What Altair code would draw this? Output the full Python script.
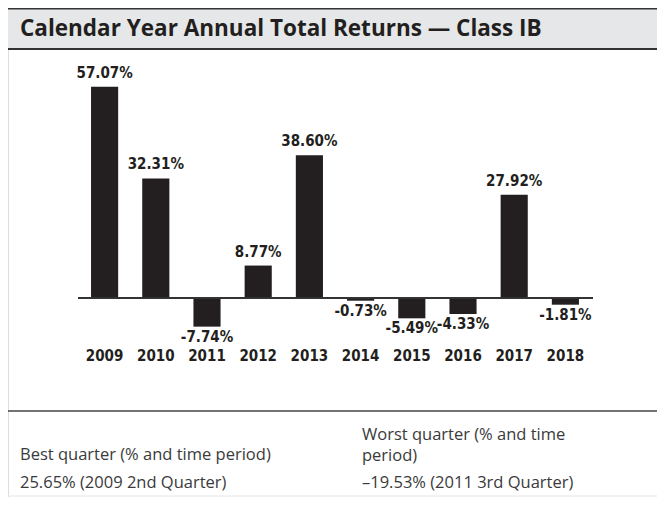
import altair as alt
import pandas as pd

years = ["2009", "2010", "2011", "2012", "2013", "2014", "2015", "2016", "2017", "2018"]
returns = [57.07, 32.31, -7.74, 8.77, 38.60, -0.73, -5.49, -4.33, 27.92, -1.81]
labels = ["57.07%", "32.31%", "-7.74%", "8.77%", "38.60%", "-0.73%", "-5.49%", "-4.33%", "27.92%", "-1.81%"]

title_text = "Calendar Year Annual Total Returns \u2014 Class IB"
best_lines = ["Best quarter (% and time period)", "25.65% (2009 2nd Quarter)"]
worst_lines = ["Worst quarter (% and time", "period)", "\u201319.53% (2011 3rd Quarter)"]

W, H = 649, 489
PX_PER_PCT = 3.70
ZERO_Y = 290

df = pd.DataFrame({"year": years, "ret": returns, "label": labels})

xs = alt.Scale(domain=years, range=[71, 583], paddingInner=0.47, paddingOuter=0.235)
ys = alt.Scale(domain=[-(H - ZERO_Y) / PX_PER_PCT, ZERO_Y / PX_PER_PCT], range=[H, 0], nice=False, zero=False)

X = alt.X("year:N", scale=xs, axis=None)
Y = alt.Y("ret:Q", scale=ys, axis=None)

base = alt.Chart(df)

bars = base.mark_bar(color="#231f20").encode(
    x=X, y=Y, y2=alt.datum(0)
)

zero_line = alt.Chart(pd.DataFrame({"z": [0]})).mark_rule(color="#333333", strokeWidth=2).encode(
    x=alt.value(70), x2=alt.value(585),
    y=alt.Y("z:Q", scale=ys, axis=None)
)

lab_font = "DejaVu Sans Condensed, Roboto, sans-serif"
pos_labels = base.transform_filter("datum.ret >= 0").mark_text(
    font=lab_font, fontWeight="bold", fontSize=15, baseline="bottom", dy=-6, color="#231f20"
).encode(x=X, y=Y, text="label:N")

neg_labels = base.transform_filter("datum.ret < 0").mark_text(
    font=lab_font, fontWeight="bold", fontSize=15, baseline="top", dy=3, color="#231f20"
).encode(x=X, y=Y, text="label:N")

year_labels = base.mark_text(
    font=lab_font, fontWeight="bold", fontSize=15, baseline="middle", color="#231f20"
).encode(x=X, y=alt.value(348), text="year:N")

one = pd.DataFrame({"a": [0]})
banner = alt.Chart(one).mark_rect(color="#e6e7e8").encode(
    x=alt.value(0), x2=alt.value(W), y=alt.value(1), y2=alt.value(41)
)
top_rule = alt.Chart(one).mark_rule(color="#333333", strokeWidth=1.5).encode(
    x=alt.value(0), x2=alt.value(W), y=alt.value(0.75)
)
bot_rule = alt.Chart(one).mark_rule(color="#333333", strokeWidth=2).encode(
    x=alt.value(0), x2=alt.value(W), y=alt.value(41)
)
title = alt.Chart(pd.DataFrame({"t": [title_text]})).mark_text(
    font="Open Sans", fontWeight="bold", fontSize=22.5, align="left", baseline="alphabetic", color="#231f20"
).encode(x=alt.value(12), y=alt.value(28), text="t:N")

foot_rule = alt.Chart(one).mark_rule(color="#444444", strokeWidth=1.5).encode(
    x=alt.value(0), x2=alt.value(W), y=alt.value(403)
)
end_rule = alt.Chart(one).mark_rule(color="#e4e4e4", strokeWidth=1).encode(
    x=alt.value(0), x2=alt.value(W), y=alt.value(488)
)

best_df = pd.DataFrame({"t": best_lines, "yy": [447, 475]})
worst_df = pd.DataFrame({"t": worst_lines, "yy": [427, 448, 475]})
ftxt = dict(font="Open Sans", fontSize=16.5, align="left", baseline="middle", color="#3a3a3a")
best = alt.Chart(best_df).mark_text(**ftxt).encode(
    x=alt.value(12), y=alt.Y("yy:Q", scale=None, axis=None), text="t:N"
)
worst = alt.Chart(worst_df).mark_text(**ftxt).encode(
    x=alt.value(354), y=alt.Y("yy:Q", scale=None, axis=None), text="t:N"
)

chart = alt.layer(
    banner, top_rule, bot_rule, title,
    bars, zero_line, pos_labels, neg_labels, year_labels,
    foot_rule, end_rule, best, worst
).properties(
    width=W, height=H, padding=0, autosize=alt.AutoSizeParams(type="none")
).configure_view(stroke=None).configure(background="white")

chart.save("out.html", embed_options={"renderer": "svg", "actions": False})
